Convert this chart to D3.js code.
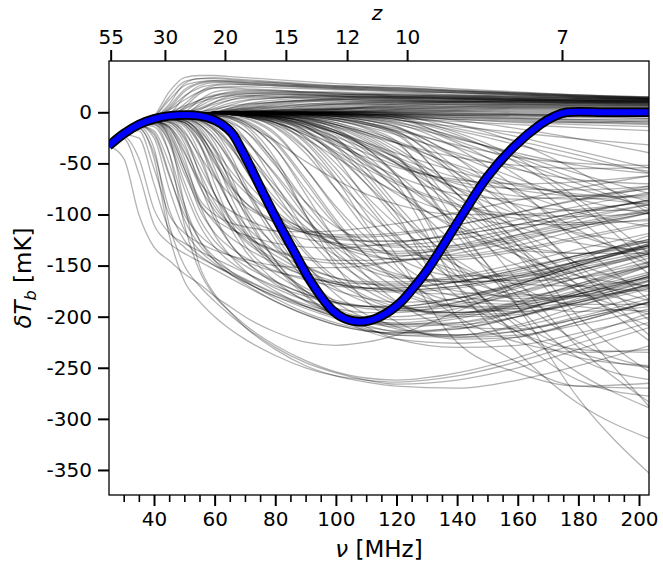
<!DOCTYPE html>
<html><head><meta charset="utf-8">
<script src="https://cdn.jsdelivr.net/npm/d3@7"></script>
<style>body{margin:0;background:#fff} text{font-family:"DejaVu Sans",sans-serif;fill:#000}</style>
</head><body><svg id="c" width="663" height="565"></svg>
<script>
// frequency nodes (MHz) at which every ensemble curve is sampled
const nuNodes = [25,30,35,40,45,50,55,60,65,70,80,90,100,110,120,140,160,180,204];

// emission / near-zero curves (mK)
const curvesNearZero = [
[-32,-21,-12,-4,20,34,36,36,35,34,32,30,28,27,26,23,20,17,15],
[-32,-21,-12,-6,8,28,33,33,32,31,29,27,26,25,24,22,19,17,14],
[-32,-21,-12,-7,-2,15,26,29,29,28,27,26,25,24,23,21,19,16,14],
[-32,-21,-12,-7,-4,5,18,24,25,25,24,23,22,21,20,19,17,15,13],
[-32,-21,-12,-7,-4,-2,8,16,20,21,21,20,20,19,19,17,16,14,12],
[-32,-21,-12,-7,-4,-2,0,6,12,15,17,17,17,17,16,15,14,13,12],
[-32,-21,-12,-7,-4,-2,-1,0,4,8,12,14,15,15,15,14,13,12,11],
[-32,-21,-12,-7,-4,-2,-1,0,1,3,7,10,12,13,13,13,12,11,10],
[-32,-21,-12,-7,-4,-2,-1,0,0,1,3,6,8,10,11,11,11,10,9],
[-32,-21,-12,-7,-4,-2,-1,0,0,0,1,3,5,7,8,9,9,9,8],
[-32,-21,-12,-7,-4,-2,-1,0,0,0,0,1,2,4,5,6,7,7,7],
[-32,-21,-12,-7,-4,-2,-1,0,0,0,0,0,1,2,3,4,5,5,5],
[-32,-21,-12,-7,-4,-2,-1,0,0,0,0,0,0,1,1,2,3,3,3],
[-32,-21,-12,-7,-4,-2,-1,0,0,0,0,0,0,0,-1,-2,-3,-4,-6],
[-32,-21,-12,-7,-4,-2,-1,-1,-1,-1,-1,-2,-2,-3,-4,-7,-10,-12,-14],
[-32,-21,-12,-6,2,12,20,24,24,23,22,20,19,18,17,16,15,14,13],
[-32,-21,-12,-6,0,6,12,16,18,19,19,18,17,17,16,15,14,13,12],
[-32,-21,-12,-5,12,26,30,31,30,29,27,25,23,22,21,19,17,15,13],
[-32,-21,-12,-7,-3,3,10,14,16,16,15,14,13,12,12,11,11,10,10],
[-32,-21,-12,-7,-4,-2,0,3,6,8,10,11,11,11,11,10,10,9,9],
[-32,-21,-12,-5,15,30,33,34,33,32,30,28,26,25,24,21,18,16,14],
[-32,-21,-12,-7,-4,-2,-1,0,2,5,9,12,14,15,15,15,14,13,13],
[-32,-21,-12,-7,-4,-2,-1,0,0,0,1,2,4,6,8,10,11,11,11],
[-32,-21,-12,-7,-4,-2,-1,0,0,0,0,0,-1,-1,-2,-3,-5,-7,-9],
[-32,-21,-12,-7,-4,-2,-1,0,0,0,0,0,0,0,0,1,1,1,1],
[-32,-21,-12,-7,-4,-2,-1,0,0,1,2,4,6,8,9,10,10,10,10],
[-32,-21,-12,-7,-4,-1,4,10,14,16,17,17,16,16,15,14,13,12,11],
[-32,-21,-12,-7,-4,-2,-1,0,0,0,0,-1,-2,-3,-4,-6,-8,-10,-12],
[-32,-21,-12,-6,4,20,28,30,30,29,28,26,24,23,22,20,18,16,14],
[-32,-21,-12,-7,-3,8,20,26,27,27,26,24,23,22,21,19,17,15,13],
[-32,-21,-12,-7,-4,0,12,20,22,22,21,20,19,18,18,17,16,15,14],
[-32,-21,-12,-7,-4,-2,2,10,16,18,19,19,18,17,17,16,15,14,13],
[-32,-21,-12,-7,-4,-2,-1,2,7,11,14,15,15,15,14,13,12,11,11],
[-32,-21,-12,-7,-4,-2,-1,0,2,4,8,11,13,14,14,13,12,12,11],
[-32,-21,-12,-7,-4,-2,-1,0,1,2,5,8,10,11,12,12,12,11,10],
[-32,-21,-12,-7,-4,-2,-1,0,0,1,2,5,7,9,10,11,10,10,9],
[-32,-21,-12,-7,-4,-2,-1,0,0,0,1,2,3,5,6,8,8,8,8],
[-32,-21,-12,-7,-4,-2,-1,0,0,0,0,1,1,2,3,5,6,6,6],
[-32,-21,-12,-7,-4,-2,-1,0,0,0,0,0,0,1,2,3,4,4,4],
[-32,-21,-12,-7,-4,-2,-1,0,0,0,0,0,0,0,0,0,-1,-1,-2],
[-32,-21,-12,-7,-4,-2,-1,0,0,0,0,0,-1,-1,-2,-4,-6,-8,-10],
[-32,-21,-12,-7,-4,-2,-1,-1,-1,-1,-1,-1,-2,-2,-3,-5,-7,-9,-11],
[-32,-21,-12,-7,-4,-2,-1,-1,-1,-1,-2,-3,-4,-5,-6,-9,-12,-15,-18],
[-32,-21,-12,-7,-4,-2,-1,0,0,0,0,0,0,-1,-1,-2,-2,-3,-4],
[-32,-21,-12,-6,6,22,29,31,31,30,29,27,25,24,23,21,19,17,15],
[-32,-21,-12,-7,-4,-1,6,13,17,18,18,17,16,15,15,14,13,12,12],
[-32,-21,-12,-7,-4,-2,-1,1,4,7,10,12,12,12,12,11,11,10,10],
[-32,-21,-12,-7,-4,-2,-1,0,0,0,0,1,3,5,7,8,8,8,7],
[-32,-21,-12,-7,-4,-2,-1,0,1,2,4,6,8,9,10,10,10,9,9],
[-32,-21,-12,-7,-4,-2,-1,0,0,1,2,3,4,5,6,7,7,7,7],
[-32,-21,-12,-7,-4,-2,-1,0,0,0,1,1,2,3,4,5,5,5,5],
[-32,-21,-12,-7,-4,-2,-1,0,0,0,0,1,1,1,2,2,2,2,2],
[-32,-21,-12,-7,-4,-2,-1,0,0,0,0,0,0,0,0,-1,-2,-3,-3],
[-32,-21,-12,-7,-4,-2,-1,-1,-1,-1,-1,-1,-1,-2,-2,-3,-4,-5,-6],
[-32,-21,-12,-7,-4,-2,-1,-1,-1,-1,-1,-2,-3,-4,-5,-7,-9,-10,-8],
[-32,-21,-12,-7,-4,-2,-1,0,3,6,10,12,13,13,13,12,12,11,10],
[-32,-21,-12,-7,-4,-2,0,4,9,12,14,15,15,14,14,13,12,12,11],
[-32,-21,-12,-7,-4,-1,3,8,12,14,15,16,16,15,15,14,13,12,12],
[-32,-21,-12,-7,-3,4,12,17,19,20,20,19,18,17,17,16,15,14,13],
[-32,-21,-12,-6,3,16,24,27,28,27,26,25,24,23,22,20,18,16,15],
[-32,-21,-12,-7,-4,-2,-1,0,0,0,0,0,1,1,1,1,0,0,-1],
[-32,-21,-12,-7,-4,-2,-1,0,0,0,0,0,0,0,-1,-1,-2,-2,-2],
[-32,-21,-12,-7,-4,-2,-1,0,1,1,2,3,3,4,4,4,4,4,4],
[-32,-21,-12,-7,-4,-2,-1,0,0,1,1,2,3,4,5,6,6,6,6],
[-32,-21,-12,-7,-4,-2,-1,0,0,0,0,0,-1,-2,-3,-5,-6,-7,-7],
[-32,-21,-12,-7,-4,-2,-1,0,2,4,6,8,9,10,10,10,9,9,8],
[-32,-21,-12,-7,-4,-2,-1,0,0,0,-1,-1,-1,-2,-2,-3,-3,-4,-4],
[-32,-21,-12,-7,-4,-2,-1,0,1,3,5,7,8,8,8,8,8,7,7]
];

// early absorption troughs
const curvesEarly = [
[-33,-45,-100,-132,-145,-158,-168,-180,-190,-200,-215,-225,-228,-225,-218,-195,-170,-145,-120],
[-32,-26,-60,-110,-128,-138,-146,-154,-162,-170,-185,-198,-208,-214,-216,-210,-195,-175,-150],
[-32,-22,-25,-70,-115,-132,-142,-150,-157,-164,-178,-190,-200,-206,-208,-202,-188,-170,-148],
[-32,-21,-16,-40,-95,-125,-140,-150,-158,-166,-180,-192,-202,-210,-214,-212,-200,-182,-160],
[-32,-21,-13,-20,-60,-105,-130,-145,-155,-163,-177,-188,-196,-200,-200,-192,-176,-158,-138],
[-32,-21,-12,-12,-30,-75,-110,-132,-146,-156,-172,-184,-192,-196,-196,-186,-168,-150,-128],
[-32,-21,-12,-9,-15,-45,-90,-120,-140,-155,-175,-190,-200,-205,-206,-200,-186,-168,-146],
[-32,-21,-12,-8,-9,-22,-60,-100,-128,-145,-165,-178,-186,-190,-190,-182,-166,-148,-128],
[-32,-21,-12,-8,-6,-10,-30,-70,-105,-130,-158,-175,-186,-192,-194,-190,-178,-162,-142],
[-32,-21,-14,-35,-110,-150,-170,-185,-198,-210,-230,-245,-255,-262,-266,-262,-250,-232,-210],
[-32,-21,-12,-12,-40,-110,-155,-180,-195,-208,-228,-243,-254,-260,-262,-255,-240,-220,-196],
[-32,-21,-12,-8,-8,-18,-45,-80,-105,-120,-135,-142,-145,-145,-142,-130,-115,-100,-85],
[-32,-21,-12,-10,-25,-60,-90,-105,-114,-120,-128,-132,-133,-131,-128,-118,-105,-92,-78],
[-32,-21,-12,-8,-7,-12,-30,-60,-90,-115,-150,-175,-192,-202,-207,-206,-195,-178,-158],
[-32,-21,-12,-8,-6,-8,-20,-45,-80,-110,-150,-180,-200,-212,-218,-218,-208,-190,-168],
[-32,-21,-12,-8,-25,-90,-150,-178,-195,-210,-232,-248,-258,-264,-268,-270,-262,-248,-228],
[-32,-21,-12,-8,-6,-6,-12,-30,-60,-95,-145,-178,-200,-214,-222,-226,-220,-205,-185],
[-32,-21,-12,-8,-6,-5,-8,-18,-40,-70,-120,-160,-186,-202,-212,-218,-214,-202,-185],
[-32,-21,-12,-8,-6,-5,-6,-10,-22,-45,-95,-135,-162,-180,-190,-196,-192,-180,-162],
[-32,-21,-12,-8,-6,-8,-20,-45,-70,-88,-108,-118,-122,-122,-120,-110,-98,-85,-72],
[-32,-24,-45,-95,-118,-128,-136,-143,-150,-157,-170,-180,-187,-190,-190,-182,-168,-150,-130],
[-32,-21,-18,-55,-100,-118,-128,-135,-140,-144,-150,-152,-152,-150,-146,-135,-120,-105,-90],
[-32,-21,-13,-25,-75,-115,-135,-148,-158,-166,-180,-190,-198,-202,-203,-198,-185,-168,-150],
[-32,-21,-12,-14,-40,-90,-125,-145,-158,-168,-185,-198,-208,-214,-216,-212,-200,-184,-164],
[-32,-21,-12,-10,-20,-55,-95,-118,-132,-142,-155,-164,-170,-172,-172,-166,-154,-140,-124],
[-32,-21,-12,-9,-12,-30,-70,-105,-128,-145,-168,-184,-196,-204,-208,-208,-200,-186,-168],
[-32,-21,-12,-8,-8,-14,-40,-80,-112,-135,-165,-185,-198,-206,-210,-206,-194,-178,-160],
[-32,-21,-12,-8,-7,-9,-22,-55,-90,-118,-152,-172,-184,-190,-192,-186,-172,-155,-136],
[-32,-21,-12,-8,-6,-7,-14,-35,-68,-100,-145,-175,-195,-208,-215,-218,-210,-196,-178],
[-32,-21,-15,-45,-120,-165,-185,-200,-212,-222,-238,-250,-258,-262,-264,-258,-244,-226,-205],
[-32,-21,-12,-9,-18,-50,-85,-100,-108,-112,-116,-117,-116,-113,-109,-98,-86,-74,-62],
[-32,-21,-12,-8,-7,-10,-25,-50,-72,-88,-106,-116,-120,-120,-118,-110,-98,-86,-74],
[-32,-21,-12,-8,-6,-6,-10,-22,-45,-75,-125,-165,-192,-210,-222,-230,-228,-216,-200],
[-32,-21,-12,-8,-6,-5,-7,-14,-30,-55,-105,-148,-178,-198,-210,-220,-218,-208,-192],
[-32,-21,-13,-18,-50,-95,-125,-142,-155,-165,-182,-196,-206,-213,-218,-220,-214,-202,-186],
[-32,-21,-12,-8,-7,-10,-24,-48,-75,-98,-130,-150,-162,-168,-170,-166,-156,-142,-126],
[-32,-21,-12,-8,-6,-7,-16,-38,-66,-92,-132,-158,-174,-182,-186,-182,-170,-155,-138],
[-32,-21,-12,-7,-5,-5,-8,-16,-32,-55,-100,-138,-165,-182,-192,-196,-190,-176,-158],
[-32,-21,-12,-7,-5,-4,-5,-9,-18,-34,-78,-120,-152,-174,-188,-198,-196,-186,-170],
[-32,-21,-12,-7,-4,-3,-4,-7,-14,-26,-62,-102,-136,-160,-176,-190,-190,-180,-164],
[-32,-21,-12,-9,-14,-38,-72,-96,-112,-122,-136,-144,-148,-148,-146,-138,-126,-112,-98],
[-32,-21,-12,-8,-10,-26,-58,-88,-110,-126,-146,-160,-168,-172,-172,-166,-154,-140,-124],
[-32,-21,-12,-7,-5,-6,-12,-26,-48,-74,-118,-150,-172,-186,-194,-196,-188,-174,-156],
[-32,-21,-12,-7,-4,-3,-4,-6,-10,-18,-48,-88,-124,-152,-172,-190,-192,-184,-168],
[-32,-21,-12,-8,-7,-12,-32,-62,-90,-110,-136,-152,-162,-166,-166,-160,-148,-134,-118],
[-32,-21,-12,-9,-16,-40,-68,-85,-96,-104,-116,-124,-128,-130,-130,-124,-114,-102,-90],
[-32,-21,-12,-8,-9,-20,-42,-64,-80,-92,-108,-118,-124,-126,-126,-120,-110,-98,-86],
[-32,-21,-12,-8,-7,-10,-22,-42,-62,-78,-100,-114,-122,-126,-126,-120,-110,-98,-86],
[-32,-21,-12,-7,-5,-6,-12,-26,-46,-66,-96,-116,-128,-134,-136,-132,-122,-110,-96],
[-32,-21,-12,-7,-5,-5,-8,-16,-30,-48,-84,-112,-130,-140,-144,-142,-134,-122,-108],
[-32,-21,-12,-10,-22,-55,-88,-108,-122,-132,-148,-160,-168,-172,-174,-170,-160,-146,-130],
[-32,-21,-12,-9,-14,-34,-66,-92,-110,-124,-144,-158,-168,-174,-176,-172,-162,-148,-132],
[-32,-21,-12,-8,-10,-24,-52,-80,-102,-118,-140,-156,-166,-172,-174,-170,-160,-146,-130],
[-32,-21,-13,-22,-62,-100,-120,-132,-140,-146,-156,-162,-166,-168,-168,-162,-152,-140,-126],
[-32,-21,-12,-11,-28,-68,-104,-126,-140,-150,-166,-178,-186,-190,-192,-188,-176,-162,-146],
[-32,-21,-12,-7,-4,-4,-6,-12,-24,-40,-76,-106,-126,-138,-144,-144,-136,-124,-110],
[-32,-21,-12,-7,-4,-3,-5,-10,-20,-36,-72,-106,-132,-150,-160,-166,-162,-152,-138],
[-32,-21,-12,-7,-4,-3,-4,-8,-15,-28,-60,-96,-126,-146,-158,-166,-164,-154,-140],
[-32,-21,-12,-8,-6,-8,-18,-36,-56,-74,-100,-118,-130,-136,-138,-134,-124,-112,-98],
[-32,-21,-12,-7,-5,-5,-9,-18,-34,-52,-88,-118,-140,-154,-162,-164,-158,-146,-132]
];

// mid-band absorption troughs
const curvesMid = [
[-32,-21,-12,-7,-4,-2,-1,-1,-2,-4,-12,-35,-75,-115,-145,-175,-180,-170,-150],
[-32,-21,-12,-7,-4,-2,-1,-1,-1,-2,-6,-18,-45,-85,-120,-165,-182,-180,-165],
[-32,-21,-12,-7,-4,-2,-1,-1,-1,-2,-4,-10,-25,-55,-90,-150,-185,-195,-190],
[-32,-21,-12,-7,-4,-2,-1,-2,-4,-10,-35,-75,-110,-130,-140,-140,-130,-115,-98],
[-32,-21,-12,-7,-4,-2,-2,-4,-10,-25,-70,-115,-145,-165,-175,-178,-168,-150,-130],
[-32,-21,-12,-7,-4,-2,-1,-1,-2,-5,-20,-55,-95,-130,-155,-180,-185,-178,-160],
[-32,-21,-12,-7,-4,-2,-1,-1,-1,-2,-5,-12,-28,-50,-75,-115,-135,-138,-130],
[-32,-21,-12,-7,-4,-2,-1,-1,-1,-1,-3,-8,-18,-35,-60,-110,-150,-170,-175],
[-32,-21,-12,-7,-4,-2,-1,-1,-2,-4,-15,-40,-75,-105,-128,-155,-165,-162,-150],
[-32,-21,-12,-7,-4,-2,-1,-1,-1,-2,-8,-25,-55,-90,-125,-180,-215,-232,-235],
[-32,-21,-12,-7,-4,-2,-1,-1,-1,-2,-5,-14,-32,-60,-95,-160,-205,-235,-250],
[-32,-21,-12,-7,-4,-2,-1,-1,-1,-1,-3,-6,-12,-22,-38,-80,-125,-160,-185],
[-32,-21,-12,-7,-4,-2,-1,-1,-1,-2,-6,-15,-30,-48,-62,-80,-85,-82,-75],
[-32,-21,-12,-7,-4,-2,-1,-1,-1,-2,-4,-10,-20,-34,-48,-70,-82,-85,-80],
[-32,-21,-12,-7,-4,-2,-1,-2,-5,-12,-45,-100,-150,-185,-205,-222,-220,-205,-185],
[-32,-21,-12,-7,-4,-2,-2,-3,-6,-14,-50,-100,-140,-168,-186,-200,-198,-186,-168],
[-32,-21,-12,-7,-4,-2,-1,-1,-2,-3,-10,-30,-65,-110,-150,-200,-225,-235,-232],
[-32,-21,-12,-7,-4,-2,-1,-1,-1,-1,-2,-5,-10,-20,-35,-75,-115,-148,-172],
[-32,-21,-12,-7,-4,-2,-1,-1,-2,-3,-6,-12,-20,-30,-40,-58,-72,-80,-84],
[-32,-21,-12,-7,-4,-2,-2,-3,-6,-12,-28,-48,-66,-80,-90,-100,-100,-95,-88],
[-32,-21,-12,-7,-4,-2,-1,-1,-1,-2,-4,-9,-18,-30,-45,-75,-100,-118,-128],
[-32,-21,-12,-7,-4,-2,-1,-1,-2,-4,-12,-26,-44,-62,-78,-100,-110,-110,-104],
[-32,-21,-12,-7,-4,-2,-1,-2,-3,-6,-22,-55,-92,-122,-142,-160,-160,-150,-135],
[-32,-21,-12,-7,-4,-2,-1,-1,-2,-3,-9,-24,-50,-82,-110,-150,-168,-170,-162],
[-32,-21,-12,-7,-4,-2,-1,-1,-1,-2,-5,-12,-26,-48,-75,-130,-170,-190,-195],
[-32,-21,-12,-7,-4,-2,-2,-3,-8,-18,-52,-88,-112,-126,-132,-130,-120,-108,-95],
[-32,-21,-12,-7,-4,-2,-1,-2,-4,-8,-28,-65,-105,-140,-165,-190,-195,-188,-172],
[-32,-21,-12,-7,-4,-2,-1,-1,-1,-2,-7,-20,-42,-70,-98,-145,-175,-188,-188],
[-32,-21,-12,-7,-4,-2,-1,-1,-2,-3,-8,-18,-34,-52,-68,-90,-100,-102,-98],
[-32,-21,-12,-7,-4,-2,-1,-1,-1,-1,-3,-7,-15,-28,-45,-90,-135,-168,-190],
[-32,-21,-12,-7,-4,-2,-1,-1,-2,-4,-14,-36,-66,-96,-122,-160,-178,-180,-172],
[-32,-21,-12,-7,-4,-2,-1,-1,-1,-2,-6,-18,-40,-70,-105,-170,-215,-240,-248],
[-32,-21,-12,-7,-4,-2,-1,-1,-2,-3,-7,-14,-24,-36,-50,-74,-90,-96,-96],
[-32,-21,-12,-7,-4,-2,-1,-2,-4,-9,-30,-68,-108,-140,-162,-185,-188,-178,-160],
[-32,-21,-12,-7,-4,-2,-1,-1,-1,-2,-4,-9,-18,-32,-50,-95,-140,-175,-198],
[-32,-21,-12,-7,-4,-2,-1,-1,-2,-3,-10,-22,-38,-55,-70,-92,-104,-108,-106],
[-32,-21,-12,-7,-4,-2,-2,-3,-5,-10,-35,-80,-125,-160,-185,-210,-212,-200,-182],
[-32,-21,-12,-7,-4,-2,-1,-1,-1,-1,-2,-4,-8,-14,-22,-40,-56,-66,-70],
[-32,-21,-12,-7,-4,-2,-1,-1,-1,-2,-4,-8,-14,-22,-30,-44,-52,-55,-54],
[-32,-21,-12,-7,-4,-2,-1,-1,-1,-1,-1,-2,-4,-7,-12,-26,-40,-52,-60],
[-32,-21,-12,-7,-4,-2,-1,-1,-1,-1,-1,-1,-2,-4,-7,-18,-32,-46,-58],
[-32,-21,-12,-7,-4,-2,-1,-1,-2,-3,-8,-16,-28,-40,-52,-68,-75,-76,-72],
[-32,-21,-12,-7,-4,-2,-1,-1,-1,-1,-2,-3,-6,-10,-16,-34,-55,-75,-92],
[-32,-21,-12,-7,-4,-2,-1,-1,-1,-2,-3,-6,-12,-20,-30,-52,-70,-82,-90],
[-32,-21,-12,-7,-4,-2,-1,-1,-1,-1,-2,-4,-7,-12,-18,-32,-44,-50,-52],
[-32,-21,-12,-7,-4,-2,-1,-1,-1,-1,-1,-2,-3,-5,-8,-14,-20,-26,-32],
[-32,-21,-12,-7,-4,-2,-1,-1,-1,-1,-1,-1,-1,-2,-3,-8,-16,-26,-40],
[-32,-21,-12,-7,-4,-2,-1,-1,-2,-4,-10,-20,-32,-44,-54,-66,-70,-68,-62],
[-32,-21,-12,-7,-4,-2,-1,-1,-1,-2,-5,-11,-20,-32,-44,-64,-76,-82,-82],
[-32,-21,-12,-7,-4,-2,-1,-1,-1,-1,-2,-5,-10,-18,-28,-54,-78,-98,-112],
[-32,-21,-12,-7,-4,-2,-1,-1,-1,-1,-1,-2,-3,-6,-10,-24,-44,-66,-88],
[-32,-21,-12,-7,-4,-2,-1,-1,-1,-1,-1,-1,-2,-3,-5,-12,-24,-38,-55],
[-32,-21,-12,-7,-4,-2,-1,-1,-1,-2,-4,-10,-20,-34,-50,-85,-112,-128,-135],
[-32,-21,-12,-7,-4,-2,-1,-1,-1,-1,-3,-6,-12,-20,-30,-60,-92,-120,-140],
[-32,-21,-12,-7,-4,-2,-1,-1,-1,-1,-1,-3,-6,-12,-20,-45,-80,-115,-150],
[-32,-21,-12,-7,-4,-2,-1,-1,-2,-4,-10,-22,-40,-60,-80,-112,-130,-138,-138],
[-32,-21,-12,-7,-4,-2,-1,-1,-1,-2,-6,-14,-28,-46,-66,-108,-140,-160,-170]
];

// late / deep absorption troughs
const curvesLate = [
[-32,-21,-12,-7,-4,-2,-1,-1,-1,-1,-1,-2,-4,-8,-15,-45,-95,-155,-220],
[-32,-21,-12,-7,-4,-2,-1,-1,-1,-1,-2,-3,-6,-12,-22,-80,-140,-210,-290],
[-32,-21,-12,-7,-4,-2,-1,-1,-1,-1,-2,-4,-8,-15,-28,-110,-190,-280,-355],
[-32,-21,-12,-7,-4,-2,-1,-1,-1,-2,-4,-10,-22,-42,-70,-170,-235,-285,-320],
[-32,-21,-12,-7,-4,-2,-1,-1,-1,-1,-1,-2,-4,-8,-14,-55,-100,-150,-205],
[-32,-21,-12,-7,-4,-2,-1,-1,-1,-1,-2,-6,-16,-35,-62,-155,-210,-255,-290],
[-32,-21,-12,-7,-4,-2,-1,-1,-1,-1,-1,-1,-2,-3,-5,-20,-45,-85,-140],
[-32,-21,-12,-7,-4,-2,-1,-1,-1,-1,-1,-2,-4,-10,-20,-80,-130,-175,-210],
[-32,-21,-12,-7,-4,-2,-1,-1,-1,-2,-5,-14,-34,-65,-100,-200,-245,-268,-270],
[-32,-21,-12,-7,-4,-2,-1,-1,-2,-4,-10,-28,-60,-100,-140,-225,-255,-268,-265],
[-32,-21,-12,-7,-4,-2,-1,0,0,0,0,-1,-2,-4,-7,-25,-42,-60,-80],
[-32,-21,-12,-7,-4,-2,-1,0,0,0,-1,-2,-4,-8,-14,-42,-65,-85,-100],
[-32,-21,-12,-7,-4,-2,-1,-1,-1,-1,-1,-1,-2,-3,-5,-28,-48,-70,-95],
[-32,-21,-12,-7,-4,-2,-1,-1,-1,-1,-1,-1,-1,-2,-3,-16,-28,-42,-60],
[-32,-21,-12,-7,-4,-2,-1,-1,-1,-1,-1,-2,-3,-6,-11,-35,-75,-128,-185],
[-32,-21,-12,-7,-4,-2,-1,-1,-1,-1,-2,-4,-8,-16,-30,-95,-165,-230,-285],
[-32,-21,-12,-7,-4,-2,-1,-1,-1,-1,-1,-2,-3,-5,-9,-30,-62,-105,-160],
[-32,-21,-12,-7,-4,-2,-1,-1,-1,-2,-3,-7,-14,-26,-44,-115,-180,-225,-250],
[-32,-21,-12,-7,-4,-2,-1,-1,-1,-1,-2,-3,-6,-11,-19,-60,-115,-170,-225],
[-32,-21,-12,-7,-4,-2,-1,-1,-1,-1,-1,-1,-2,-4,-7,-22,-50,-90,-150],
[-32,-21,-12,-7,-4,-2,-1,-1,-1,-1,-2,-5,-12,-24,-42,-120,-190,-240,-262],
[-32,-21,-12,-7,-4,-2,-1,-1,-1,-1,-1,-1,-1,-2,-4,-12,-30,-58,-100],
[-32,-21,-12,-7,-4,-2,-1,-1,-1,-2,-4,-9,-20,-38,-62,-150,-220,-262,-278],
[-32,-21,-12,-7,-4,-2,-1,-1,-1,-1,-1,-2,-5,-10,-18,-65,-130,-200,-255]
];

// fiducial model (blue)
const blueNu = [25,30,35,40,45,51,55,59,62,65.6,70,75.5,81,86.5,92,98.6,103,108,113,118,122,125.5,130,134.4,142,150,158.6,167.4,172,176.2,190,204];
const blueT  = [-33,-21,-12,-6.5,-3.5,-2.6,-3.5,-6.5,-11,-20,-43,-76,-108,-138,-167,-193,-202,-205,-202,-194,-184,-172,-155,-135,-99,-63,-34,-12,-4,0,0,0];

// axis ticks
const yTicks = [0,-50,-100,-150,-200,-250,-300,-350];
const xTicks = [40,60,80,100,120,140,160,180,200];
const xMinorTicks = [30,35,45,50,55,65,70,75,85,90,95,105,110,115,125,130,135,145,150,155,165,170,175,185,190,195];
const zLabels = ["55","30","20","15","12","10","7"];
const zTickNu = [25.7,43.6,63.4,83.5,103.7,123.5,174.6];

const L=109, R=649, T=61, B=495;
const svg = d3.select("#c");
const x = d3.scaleLinear().domain([25.15,203.3]).range([L,R]);
const y = d3.scaleLinear().domain([-374.5,50.2]).range([B,T]);

svg.append("defs").append("clipPath").attr("id","clip")
  .append("rect").attr("x",L).attr("y",T).attr("width",R-L).attr("height",B-T);

const line = d3.line().x(d=>x(d[0])).y(d=>y(d[1])).curve(d3.curveMonotoneX);
const g = svg.append("g").attr("clip-path","url(#clip)");
const allCurves = [].concat(curvesNearZero, curvesEarly, curvesMid, curvesLate);
g.selectAll("path.ens").data(allCurves).join("path").attr("class","ens")
  .attr("d", c => line(c.map((v,i)=>[nuNodes[i], v])))
  .attr("fill","none").attr("stroke","#000").attr("stroke-opacity",0.3).attr("stroke-width",1.3);

const blueLine = d3.line().x(d=>x(d[0])).y(d=>y(d[1])).curve(d3.curveCatmullRom.alpha(0.5));
const blue = blueNu.map((n,i)=>[n, blueT[i]]);
g.append("path").attr("d", blueLine(blue)).attr("fill","none").attr("stroke","#000").attr("stroke-width",9.5);
g.append("path").attr("d", blueLine(blue)).attr("fill","none").attr("stroke","#0000ff").attr("stroke-width",6);

// axes
function style(sel){
  sel.select(".domain").remove();
  sel.selectAll(".tick line").attr("stroke","#000").attr("stroke-width",2);
  sel.selectAll(".tick text").style("font-size","20px").style("font-family","'DejaVu Sans',sans-serif");
}
svg.append("g").attr("transform",`translate(${L},0)`)
  .call(d3.axisLeft(y).tickValues(yTicks).tickFormat(d=>String(d)).tickSize(11).tickPadding(6)).call(style);
svg.append("g").attr("transform",`translate(0,${B})`)
  .call(d3.axisBottom(x).tickValues(xTicks).tickFormat(d=>String(d)).tickSize(11).tickPadding(6)).call(style);
svg.append("g").attr("transform",`translate(0,${B})`)
  .call(d3.axisBottom(x).tickValues(xMinorTicks).tickFormat("").tickSize(7)).call(s=>{
    s.select(".domain").remove();
    s.selectAll(".tick line").attr("stroke","#000").attr("stroke-width",1.6);
  });
svg.append("g").attr("transform",`translate(0,${T})`)
  .call(d3.axisTop(x).tickValues(zTickNu).tickFormat((d,i)=>zLabels[i]).tickSize(11).tickPadding(6)).call(style);

svg.append("rect").attr("x",L).attr("y",T).attr("width",R-L).attr("height",B-T)
  .attr("fill","none").attr("stroke","#000").attr("stroke-width",1.3);

// labels
svg.append("text").attr("x",(L+R)/2).attr("y",557).attr("text-anchor","middle").style("font-size","23px")
  .call(t=>{t.append("tspan").style("font-style","italic").text("ν");t.append("tspan").text(" [MHz]");});
svg.append("text").attr("x",377).attr("y",19.5).attr("text-anchor","middle").style("font-size","20px").style("font-style","italic").text("z");
svg.append("text").attr("transform",`translate(31,${(T+B)/2}) rotate(-90)`).attr("text-anchor","middle").style("font-size","23px")
  .call(t=>{
    t.append("tspan").style("font-style","italic").text("δT");
    t.append("tspan").style("font-style","italic").style("font-size","16px").attr("dy",5).text("b");
    t.append("tspan").attr("dy",-5).text(" [mK]");
  });
</script></body></html>
